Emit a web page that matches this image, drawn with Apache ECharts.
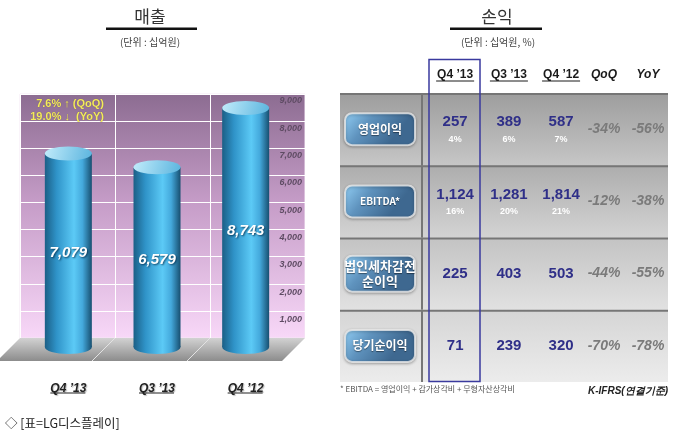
<!DOCTYPE html>
<html>
<head>
<meta charset="utf-8">
<script src="https://cdn.jsdelivr.net/npm/echarts@6/dist/echarts.min.js"></script>
<style>
html,body{margin:0;padding:0;background:#fff;}
#main{width:680px;height:435px;}
</style>
</head>
<body>
<div id="main"></div>
<script>
// 매출 (십억원)
var quarters = ['Q4 \u201913', 'Q3 \u201913', 'Q4 \u201912'];
var sales = [7079, 6579, 8743];
var salesNotes = ['7.6% \u2191 (QoQ)', '19.0% \u2193  (YoY)'];

// 손익 (십억원, %)
var profitRows = ['영업이익', 'EBITDA*', '법인세차감전\n순이익', '당기순이익'];
var profitCols = ['Q4 \u201913', 'Q3 \u201913', 'Q4 \u201912', 'QoQ', 'YoY'];
var profitQ413 = [257, 1124, 225, 71];
var profitQ313 = [389, 1281, 403, 239];
var profitQ412 = [587, 1814, 503, 320];
var marginQ413 = [4, 16, null, null];
var marginQ313 = [6, 20, null, null];
var marginQ412 = [7, 21, null, null];
var profitQoQ = [-34, -12, -44, -70];
var profitYoY = [-56, -38, -55, -78];

var KR = "'Noto Sans CJK KR', sans-serif";
var AR = "'Liberation Sans', Arial, sans-serif";

function comma(v){
    return String(v).replace(/\B(?=(\d{3})+(?!\d))/g, ',');
}

// 표 레이아웃 (열 중심, 표 폭 기준 비율)
var colPos = [0.122, 0.351, 0.515, 0.674, 0.805, 0.939];
var rowBg = [['#9d9d9d', '#c6c6c6'], ['#adadad', '#d3d3d3'], ['#c3c3c3', '#e1e1e1'], ['#d5d5d5', '#ececec']];

var tableData = profitRows.map(function(name, i){
    return [0, i, profitQ413[i], profitQ313[i], profitQ412[i],
        marginQ413[i], marginQ313[i], marginQ412[i], profitQoQ[i], profitYoY[i]];
});

var chart = echarts.init(document.getElementById('main'));

function cylinder(params, api){
    var v = api.value(1);
    var top = api.coord([api.value(0), v]);
    var base = api.coord([api.value(0), 0]);
    var cx = top[0], rx = 23.5, ry = 7;
    var body = new echarts.graphic.LinearGradient(0, 0, 1, 0, [
        {offset: 0, color: '#1b5f86'},
        {offset: 0.25, color: '#2f93c8'},
        {offset: 0.62, color: '#5ccaf6'},
        {offset: 0.8, color: '#44a9dc'},
        {offset: 1, color: '#174f70'}
    ]);
    return {
        type: 'group',
        children: [
            {type: 'ellipse', shape: {cx: cx, cy: base[1], rx: rx, ry: ry}, style: {fill: body}},
            {type: 'rect', shape: {x: cx - rx, y: top[1], width: rx * 2, height: base[1] - top[1]}, style: {fill: body}},
            {type: 'ellipse', shape: {cx: cx, cy: top[1], rx: rx, ry: ry},
                style: {fill: new echarts.graphic.LinearGradient(0, 0, 1, 1, [
                    {offset: 0, color: '#c2ecfb'}, {offset: 1, color: '#5ab4de'}])}},
            {type: 'text', x: cx, y: (top[1] + base[1]) / 2 + 3,
                style: {text: comma(v), fill: '#fff', font: 'italic bold 15px ' + AR,
                    align: 'center', verticalAlign: 'middle',
                    textShadowColor: 'rgba(0,40,70,0.8)', textShadowBlur: 2, textShadowOffsetX: 1, textShadowOffsetY: 1}},
            {type: 'line', shape: {x1: cx - 18, y1: 393, x2: cx + 17, y2: 393},
                style: {stroke: '#222', lineWidth: 1}}
        ]
    };
}

function tableRow(params, api){
    var row = api.value(1);
    var c = api.coord([0, row]);
    var h = api.size([0, 1])[1];
    var sys = params.coordSys;
    var x0 = sys.x, w = sys.width;
    var y0 = c[1] - h / 2, cy = c[1];
    var kids = [];
    kids.push({type: 'rect', shape: {x: x0, y: y0, width: w, height: h},
        style: {fill: new echarts.graphic.LinearGradient(0, 0, 0, 1, [
            {offset: 0, color: rowBg[row][0]}, {offset: 1, color: rowBg[row][1]}])}});
    kids.push({type: 'line', shape: {x1: x0, y1: y0 + 1, x2: x0 + w, y2: y0 + 1}, style: {stroke: '#767676', lineWidth: 2}});
    kids.push({type: 'line', shape: {x1: x0 + w * 0.25, y1: y0, x2: x0 + w * 0.25, y2: y0 + h}, style: {stroke: '#767676', lineWidth: 2}});
    // 버튼
    var bx = x0 + w * colPos[0];
    var twoLine = profitRows[row].indexOf('\n') >= 0;
    var bh = twoLine ? 36 : 32;
    kids.push({type: 'rect', shape: {x: bx - 35, y: cy - bh / 2, width: 70, height: bh, r: 7},
        style: {fill: new echarts.graphic.LinearGradient(0, 0, 0.6, 1, [
            {offset: 0, color: '#93d0f6'}, {offset: 0.45, color: '#5f93be'}, {offset: 1, color: '#3e6890'}]),
            stroke: 'rgba(235,235,235,0.8)', lineWidth: 2,
            shadowColor: 'rgba(0,0,0,0.3)', shadowBlur: 3, shadowOffsetY: 1}});
    kids.push({type: 'text', x: bx, y: cy,
        style: {text: profitRows[row], fill: '#fff', align: 'center', verticalAlign: 'middle',
            font: 'bold ' + (twoLine ? 13 : (row === 1 ? 10 : 12)) + 'px ' + KR, lineHeight: 15,
            textShadowColor: 'rgba(0,0,0,0.45)', textShadowBlur: 1, textShadowOffsetY: 1}});
    // 값
    for (var k = 0; k < 3; k++) {
        var val = api.value(2 + k);
        var m = api.value(5 + k);
        var hasM = m !== null && m !== undefined && !isNaN(m);
        var vx = x0 + w * colPos[k + 1];
        kids.push({type: 'text', x: vx, y: hasM ? cy - 7 : cy,
            style: {text: comma(val), fill: '#2f2f88', font: 'bold 15px ' + AR, align: 'center', verticalAlign: 'middle'}});
        if (hasM) {
            kids.push({type: 'text', x: vx, y: cy + 10,
                style: {text: m + '%', fill: '#fff', font: 'bold 9px ' + AR, align: 'center', verticalAlign: 'middle'}});
        }
    }
    for (var j = 0; j < 2; j++) {
        kids.push({type: 'text', x: x0 + w * colPos[4 + j], y: cy,
            style: {text: api.value(8 + j) + '%', fill: '#7a7a7a', font: 'italic bold 14px ' + AR,
                align: 'center', verticalAlign: 'middle'}});
    }
    return {type: 'group', children: kids};
}

var graphics = [
    // 매출 제목
    {type: 'text', x: 150, y: 17, style: {text: '매출', font: '17px ' + KR, fill: '#333', align: 'center', verticalAlign: 'middle'}},
    {type: 'rect', shape: {x: 106, y: 27.5, width: 91, height: 2.5}, style: {fill: '#111'}},
    {type: 'text', x: 150, y: 42, style: {text: '(단위 : 십억원)', font: '10px ' + KR, fill: '#444', align: 'center', verticalAlign: 'middle'}},
    // 손익 제목
    {type: 'text', x: 497, y: 17, style: {text: '손익', font: '17px ' + KR, fill: '#333', align: 'center', verticalAlign: 'middle'}},
    {type: 'rect', shape: {x: 450, y: 27.5, width: 92, height: 2.5}, style: {fill: '#111'}},
    {type: 'text', x: 498, y: 42, style: {text: '(단위 : 십억원, %)', font: '10px ' + KR, fill: '#444', align: 'center', verticalAlign: 'middle'}},
    // 바닥
    {type: 'polygon', z: 1, shape: {points: [[20, 338], [305, 338], [282, 361], [-3, 361]]},
        style: {fill: new echarts.graphic.LinearGradient(0, 0, 0, 1, [
            {offset: 0, color: '#d2d2d2'}, {offset: 1, color: '#8c8c8c'}])}},
    {type: 'line', z: 1, shape: {x1: 115, y1: 338, x2: 92, y2: 361}, style: {stroke: '#e2e2e2', lineWidth: 1}},
    {type: 'line', z: 1, shape: {x1: 210, y1: 338, x2: 187, y2: 361}, style: {stroke: '#e2e2e2', lineWidth: 1}},
    // 증감 주석
    {type: 'text', z: 5, x: 104, y: 104, style: {text: salesNotes[0], font: 'bold 11px ' + AR, fill: '#f4ec5a', align: 'right', verticalAlign: 'middle',
        textShadowColor: 'rgba(60,40,60,0.6)', textShadowBlur: 1}},
    {type: 'text', z: 5, x: 104, y: 117, style: {text: salesNotes[1], font: 'bold 11px ' + AR, fill: '#f4ec5a', align: 'right', verticalAlign: 'middle',
        textShadowColor: 'rgba(60,40,60,0.6)', textShadowBlur: 1}},
    // Q4 '13 강조 상자
    {type: 'rect', z: 10, shape: {x: 429, y: 59.5, width: 51, height: 322}, style: {fill: 'none', stroke: '#3a3a9e', lineWidth: 1.5}},
    // 각주
    {type: 'text', x: 340, y: 389, style: {text: '* EBITDA = 영업이익 + 감가상각비 + 무형자산상각비', font: '8px ' + KR, fill: '#555', verticalAlign: 'middle'}},
    {type: 'text', x: 668, y: 391, style: {text: 'K-IFRS(연결기준)', font: 'italic bold 10px ' + AR, fill: '#222', align: 'right', verticalAlign: 'middle'}},
    {type: 'text', x: 5, y: 423, style: {text: '\u25c7 [표=LG디스플레이]', font: '12.5px ' + KR, fill: '#222', verticalAlign: 'middle'}}
];

// 표 머리글
profitCols.forEach(function(name, i){
    var x = 340 + 328 * colPos[i + 1];
    var italic = i >= 3;
    graphics.push({type: 'text', x: x, y: 75, style: {text: name, font: (italic ? 'italic ' : '') + 'bold 12px ' + AR,
        fill: '#1a1a1a', align: 'center', verticalAlign: 'middle'}});
    if (!italic) {
        graphics.push({type: 'line', shape: {x1: x - 19, y1: 81, x2: x + 19, y2: 81}, style: {stroke: '#1a1a1a', lineWidth: 1}});
    }
});

var option = {
    animation: false,
    backgroundColor: '#fff',
    grid: [
        {left: 20, top: 94, width: 285, height: 244, show: true, z: 0,
            backgroundColor: new echarts.graphic.LinearGradient(0, 0, 0, 1, [
                {offset: 0, color: '#8c6c91'}, {offset: 0.45, color: '#c69dc8'}, {offset: 1, color: '#f8d8f8'}]),
            borderColor: '#f4e8f4', borderWidth: 1},
        {left: 24, top: 101, width: 266, height: 246},
        {left: 340, top: 93, width: 328, height: 289}
    ],
    xAxis: [
        {gridIndex: 0, type: 'category', data: quarters, boundaryGap: true,
            axisLine: {show: false}, axisTick: {show: false}, axisLabel: {show: false},
            splitLine: {show: true, lineStyle: {color: '#fff', width: 1}}},
        {gridIndex: 1, type: 'category', data: quarters, boundaryGap: true,
            axisLine: {show: false}, axisTick: {show: false},
            axisLabel: {margin: 36, color: '#222', fontSize: 12, fontWeight: 'bold', fontStyle: 'italic', fontFamily: AR,
                textShadowColor: 'rgba(0,0,0,0.25)', textShadowBlur: 1, textShadowOffsetX: 1, textShadowOffsetY: 1}},
        {gridIndex: 2, type: 'value', min: 0, max: 1, show: false}
    ],
    yAxis: [
        {gridIndex: 0, type: 'value', min: 0, max: 9000, interval: 1000,
            axisLine: {show: false}, axisTick: {show: false}, axisLabel: {show: false},
            splitLine: {show: true, lineStyle: {color: '#fff', width: 1}}},
        {gridIndex: 1, type: 'value', min: 0, max: 9000, interval: 1000, position: 'right', offset: 14,
            axisLine: {show: false}, axisTick: {show: false}, splitLine: {show: false},
            axisLabel: {inside: true, margin: 2, color: '#5e4b63', fontSize: 9, fontWeight: 'bold', fontStyle: 'italic', fontFamily: AR,
                formatter: function(v){ return v === 0 ? '' : comma(v); }}},
        {gridIndex: 2, type: 'category', data: profitRows, inverse: true, show: false}
    ],
    graphic: graphics,
    series: [
        {type: 'custom', name: '매출', xAxisIndex: 1, yAxisIndex: 1, z: 3,
            renderItem: cylinder,
            data: sales.map(function(v, i){ return [i, v]; })},
        {type: 'custom', name: '손익', xAxisIndex: 2, yAxisIndex: 2, z: 2,
            renderItem: tableRow,
            data: tableData}
    ]
};
chart.setOption(option);
</script>
</body>
</html>
